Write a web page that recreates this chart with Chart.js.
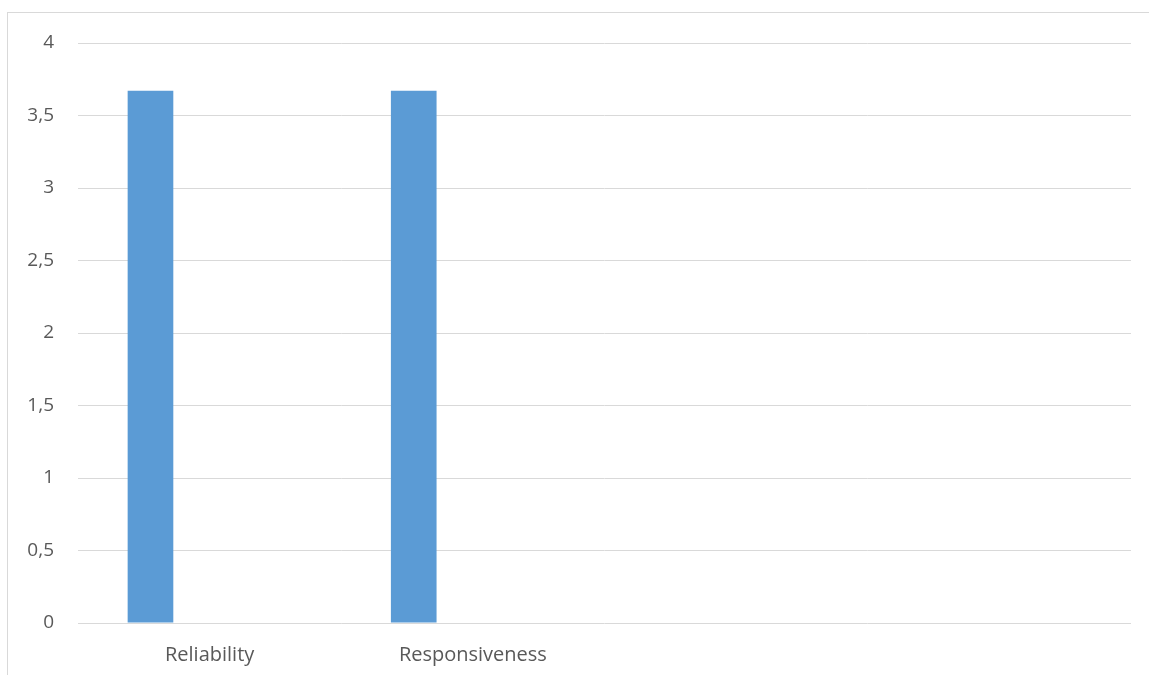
<!DOCTYPE html>
<html>
<head>
<meta charset="utf-8">
<script src="https://cdn.jsdelivr.net/npm/chart.js@4"></script>
<style>
    html, body { margin: 0; padding: 0; background: #fff; }
    #contenedor { width: 1149px; height: 675px; }
</style>
</head>
<body>
<div id="contenedor"><canvas id="grafico"></canvas></div>
<script>
// Datos del gráfico
const categorias = ['Reliability', 'Responsiveness', '', ''];
const serie1 = [3.67, 3.67, null, null];
const serie2 = [null, null, null, null];
const serie3 = [null, null, null, null];
const ticksY = [0, 0.5, 1, 1.5, 2, 2.5, 3, 3.5, 4];

const COLORES = {
    barra: '#5B9BD5',
    grid: '#D9D9D9',
    texto: '#595959',
    borde: '#D9D9D9'
};

// Marco exterior del gráfico
const marco = {
    id: 'marco',
    beforeDraw(chart) {
        const ctx = chart.ctx;
        ctx.save();
        ctx.strokeStyle = COLORES.borde;
        ctx.lineWidth = 1;
        ctx.strokeRect(7.5, 12.5, 1300, 800);
        ctx.restore();
    }
};

const ctx = document.getElementById('grafico').getContext('2d');
new Chart(ctx, {
    type: 'bar',
    data: {
        labels: categorias,
        datasets: [
            { label: 'Serie 1', data: serie1, backgroundColor: COLORES.barra },
            { label: 'Serie 2', data: serie2, backgroundColor: COLORES.barra },
            { label: 'Serie 3', data: serie3, backgroundColor: COLORES.barra }
        ]
    },
    options: {
        responsive: true,
        maintainAspectRatio: false,
        animation: false,
        categoryPercentage: 0.674,
        barPercentage: 0.772,
        layout: { padding: { top: 43, right: 18, bottom: 0, left: 0 } },
        plugins: {
            legend: { display: false },
            tooltip: { enabled: false }
        },
        scales: {
            x: {
                grid: { display: false },
                border: { display: false },
                ticks: {
                    color: COLORES.texto,
                    font: { family: 'Open Sans', size: 20 },
                    padding: 12,
                    maxRotation: 0
                },
                afterFit(scale) { scale.height = 52; }
            },
            y: {
                min: 0,
                max: 4,
                afterBuildTicks(scale) {
                    scale.ticks = ticksY.map(v => ({ value: v }));
                },
                grid: { color: COLORES.grid, drawTicks: false },
                border: { display: false },
                ticks: {
                    color: COLORES.texto,
                    font: { family: 'Open Sans', size: 19 },
                    padding: 24,
                    callback: v => String(v).replace('.', ',')
                },
                afterFit(scale) { scale.width = 78; }
            }
        }
    },
    plugins: [marco]
});
</script>
</body>
</html>
